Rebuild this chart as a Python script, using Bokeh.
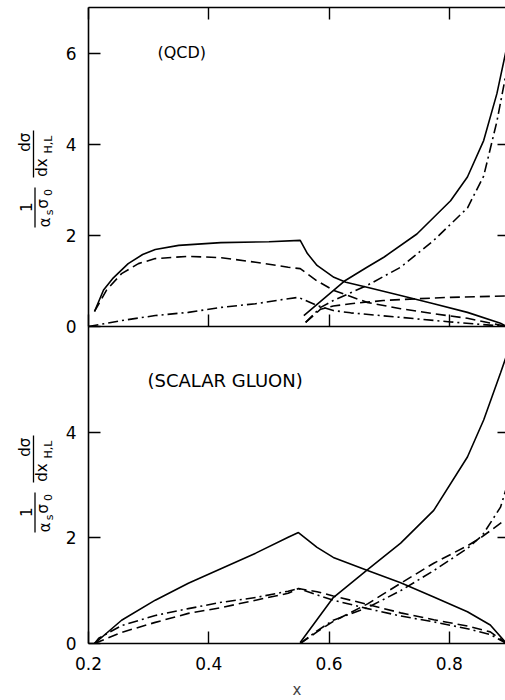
from math import pi
from bokeh.plotting import figure
from bokeh.layouts import column, row
from bokeh.models import FixedTicker, LinearAxis, Label, Range1d, CustomJSTickFormatter
from bokeh.core.properties import value
from bokeh.embed import file_html
from bokeh.resources import INLINE

# ---------------- data ----------------
# Top panel: (QCD)
qcd_solid_a_x = [0.21, 0.225, 0.24, 0.266, 0.29, 0.311, 0.35, 0.42, 0.50, 0.552,
                 0.564, 0.58, 0.608, 0.628, 0.663, 0.719, 0.774, 0.830, 0.885, 0.895]
qcd_solid_a_y = [0.33, 0.80, 1.05, 1.38, 1.58, 1.69, 1.78, 1.84, 1.86, 1.89,
                 1.60, 1.34, 1.08, 0.97, 0.86, 0.68, 0.50, 0.31, 0.07, 0.0]
qcd_dash_a_x = [0.21, 0.23, 0.255, 0.283, 0.311, 0.366, 0.421, 0.478, 0.532, 0.552,
                0.58, 0.608, 0.663, 0.719, 0.774, 0.830, 0.895]
qcd_dash_a_y = [0.33, 0.80, 1.16, 1.38, 1.49, 1.54, 1.51, 1.41, 1.30, 1.27,
                1.00, 0.79, 0.53, 0.39, 0.28, 0.18, 0.0]
qcd_dd_a_x = [0.20, 0.255, 0.311, 0.366, 0.421, 0.478, 0.532, 0.549,
              0.58, 0.607, 0.636, 0.719, 0.802, 0.895]
qcd_dd_a_y = [0.0, 0.13, 0.24, 0.31, 0.42, 0.50, 0.61, 0.64,
              0.46, 0.35, 0.30, 0.20, 0.10, 0.0]
qcd_solid_b_x = [0.558, 0.627, 0.663, 0.691, 0.746, 0.802, 0.830, 0.857, 0.879, 0.895]
qcd_solid_b_y = [0.24, 1.01, 1.30, 1.52, 2.03, 2.76, 3.28, 4.08, 5.11, 6.10]
qcd_dd_b_x = [0.561, 0.586, 0.607, 0.663, 0.719, 0.774, 0.830, 0.857, 0.879, 0.895]
qcd_dd_b_y = [0.09, 0.42, 0.57, 0.90, 1.30, 1.89, 2.60, 3.30, 4.50, 5.60]
qcd_dash_b_x = [0.561, 0.586, 0.607, 0.636, 0.690, 0.747, 0.802, 0.895]
qcd_dash_b_y = [0.09, 0.38, 0.45, 0.50, 0.57, 0.61, 0.64, 0.67]

# Bottom panel: (SCALAR GLUON)
sg_solid_a_x = [0.21, 0.255, 0.311, 0.366, 0.421, 0.478, 0.532, 0.549,
                0.58, 0.607, 0.664, 0.719, 0.774, 0.83, 0.868, 0.895]
sg_solid_a_y = [0.0, 0.44, 0.82, 1.14, 1.42, 1.71, 2.01, 2.10,
                1.82, 1.63, 1.38, 1.15, 0.88, 0.60, 0.35, 0.0]
sg_dash_a_x = [0.21, 0.255, 0.311, 0.366, 0.421, 0.478, 0.532, 0.549,
               0.58, 0.607, 0.664, 0.719, 0.774, 0.83, 0.868, 0.895]
sg_dash_a_y = [0.0, 0.21, 0.40, 0.57, 0.68, 0.82, 0.95, 1.04,
               0.98, 0.90, 0.74, 0.58, 0.45, 0.33, 0.22, 0.0]
sg_dd_a_x = [0.21, 0.217, 0.255, 0.311, 0.366, 0.421, 0.478, 0.532, 0.549,
             0.58, 0.607, 0.664, 0.719, 0.774, 0.83, 0.868, 0.895]
sg_dd_a_y = [0.0, 0.10, 0.34, 0.53, 0.66, 0.78, 0.87, 0.99, 1.04,
             0.92, 0.82, 0.66, 0.52, 0.41, 0.28, 0.17, 0.0]
sg_solid_b_x = [0.552, 0.607, 0.664, 0.719, 0.774, 0.83, 0.857, 0.885, 0.895]
sg_solid_b_y = [0.02, 0.87, 1.40, 1.90, 2.52, 3.53, 4.23, 5.12, 5.45]
sg_dash_b_x = [0.552, 0.58, 0.607, 0.664, 0.719, 0.774, 0.83, 0.852, 0.895]
sg_dash_b_y = [0.0, 0.22, 0.42, 0.75, 1.14, 1.52, 1.85, 2.00, 2.36]
sg_dd_b_x = [0.552, 0.58, 0.607, 0.664, 0.719, 0.774, 0.83, 0.855, 0.885, 0.895]
sg_dd_b_y = [0.0, 0.24, 0.44, 0.68, 1.00, 1.38, 1.80, 2.05, 2.58, 2.95]

x_ticks = [0.2, 0.4, 0.6, 0.8]
top_y_ticks = [0, 2, 4, 6]
bot_y_ticks = [0, 2, 4]
right_y_ticks = [2, 4]
top_title = "(QCD)"
bot_title = "(SCALAR GLUON)"
x_label = "x"
# y-axis label pieces: 1/(alpha_s sigma_0) d sigma / d x_{H,L}
ylab_text = ["dσ", "dx", "H,L", "1", "α", "s", "σ", "0"]
ylab_big = [True, True, False, True, True, False, True, False]

# ---------------- layout ----------------
X0, X1 = 0.2, 0.8933
FL, FR = 88, 505
LABW = 60
OVER = 12
TICK_FONT = "DejaVu Sans"
xr = Range1d(X0, X1)

SOLID = dict(line_color="black", line_width=1.6)
DASH = dict(line_color="black", line_width=1.6, line_dash="10 5")
DDOT = dict(line_color="black", line_width=1.6, line_dash="10 4 2 4")


def base_fig(frame_h, top, bottom, ymax):
    p = figure(frame_width=FR - FL, frame_height=frame_h, x_range=xr,
               y_range=Range1d(0, ymax),
               output_backend="svg", toolbar_location=None,
               min_border_left=FL - LABW, min_border_right=0,
               min_border_top=top, min_border_bottom=bottom,
               x_axis_location=None, y_axis_location=None)
    p.grid.visible = False
    p.outline_line_color = None
    return p


def style_axis(ax, ticks, labels=True):
    ax.ticker = FixedTicker(ticks=ticks, minor_ticks=[])
    ax.major_tick_in = 12
    ax.major_tick_out = 0
    ax.minor_tick_in = 0
    ax.minor_tick_out = 0
    ax.axis_line_width = 1.6
    ax.major_tick_line_width = 1.4
    ax.axis_line_color = "black"
    ax.major_tick_line_color = "black"
    if labels:
        ax.major_label_text_font = TICK_FONT
        ax.major_label_text_font_size = "17px"
        ax.major_label_text_color = "black"
    else:
        ax.formatter = CustomJSTickFormatter(code="return ''")
        ax.major_label_text_font_size = "0px"
        ax.major_label_standoff = 0


def px2x(px):
    return X0 + (px - FL) * (X1 - X0) / (FR - FL)


# ---- y-label column (pixel coordinates of the page) ----
lab = figure(width=LABW, height=700, x_range=Range1d(0, LABW), y_range=Range1d(700, 0),
             output_backend="svg", toolbar_location=None,
             min_border_left=0, min_border_right=0, min_border_top=0, min_border_bottom=0,
             x_axis_location=None, y_axis_location=None)
lab.grid.visible = False
lab.outline_line_color = None
piece_px = [24.3, 41.7, 47.5, 25.3, 44.0, 48.6, 42.3, 47.8]
piece_py = [141.7, 167.0, 144.0, 206.7, 221.7, 212.0, 203.3, 192.0]
for dy in (0, 305):
    for big in (True, False):
        sel = [i for i, b in enumerate(ylab_big) if b == big]
        lab.text(x=[piece_px[i] for i in sel], y=[piece_py[i] + dy for i in sel],
                 text=[ylab_text[i] for i in sel], angle=pi / 2,
                 text_font=value("DejaVu Sans"),
                 text_font_size=value("15px" if big else "11px"),
                 text_align="center", text_baseline="middle", text_color="black")
    lab.segment(x0=[33.0, 34.5], y0=[130 + dy, 187 + dy], x1=[33.0, 34.5], y1=[177 + dy, 227 + dy],
                line_color="black", line_width=1.3)

# ---- top panel ----
p1 = base_fig(319, 7, OVER, 7)
for xs, ys, st in [(qcd_solid_a_x, qcd_solid_a_y, SOLID), (qcd_dash_a_x, qcd_dash_a_y, DASH),
                   (qcd_dd_a_x, qcd_dd_a_y, DDOT), (qcd_solid_b_x, qcd_solid_b_y, SOLID),
                   (qcd_dd_b_x, qcd_dd_b_y, DDOT), (qcd_dash_b_x, qcd_dash_b_y, DASH)]:
    p1.line(xs, ys, **st)

ax = LinearAxis(); style_axis(ax, top_y_ticks); ax.major_label_standoff = 12
p1.add_layout(ax, "left")
ax = LinearAxis(); style_axis(ax, right_y_ticks, labels=False); ax.major_tick_in = 8
ax.axis_line_color = None
p1.add_layout(ax, "right")
ax = LinearAxis(); style_axis(ax, x_ticks, labels=False)
p1.add_layout(ax, "above")
ax = LinearAxis(); style_axis(ax, x_ticks, labels=False)
p1.add_layout(ax, "below")
p1.add_layout(Label(x=px2x(157), y=7 * (326 - 52) / 319, text=top_title,
                    text_font="DejaVu Sans", text_font_size="16px",
                    text_align="left", text_baseline="middle", text_color="black"))

# ---- bottom panel ----
p2 = base_fig(317, 0, 57, 6)
p2.border_fill_color = None
p2.background_fill_color = None
p2.styles = {"margin-top": f"-{OVER}px"}
for xs, ys, st in [(sg_solid_a_x, sg_solid_a_y, SOLID), (sg_dash_a_x, sg_dash_a_y, DASH),
                   (sg_dd_a_x, sg_dd_a_y, DDOT), (sg_solid_b_x, sg_solid_b_y, SOLID),
                   (sg_dash_b_x, sg_dash_b_y, DASH), (sg_dd_b_x, sg_dd_b_y, DDOT)]:
    p2.line(xs, ys, **st)

ax = LinearAxis(); style_axis(ax, bot_y_ticks); ax.major_label_standoff = 12
p2.add_layout(ax, "left")
ax = LinearAxis(); style_axis(ax, right_y_ticks, labels=False); ax.major_tick_in = 8
ax.axis_line_color = None
p2.add_layout(ax, "right")
ax = LinearAxis(); style_axis(ax, x_ticks)
ax.major_label_standoff = 13
ax.axis_label = x_label
ax.axis_label_text_font = "DejaVu Sans"
ax.axis_label_text_font_style = "normal"
ax.axis_label_text_font_size = "15px"
ax.axis_label_standoff = 8
p2.add_layout(ax, "below")
p2.add_layout(Label(x=px2x(147), y=6 * (643 - 380) / 317, text=bot_title,
                    text_font="DejaVu Sans", text_font_size="18px",
                    text_align="left", text_baseline="middle", text_color="black"))

layout = row(lab, column(p1, p2, spacing=0), spacing=0)
open("out.html", "w").write(file_html(layout, INLINE))
